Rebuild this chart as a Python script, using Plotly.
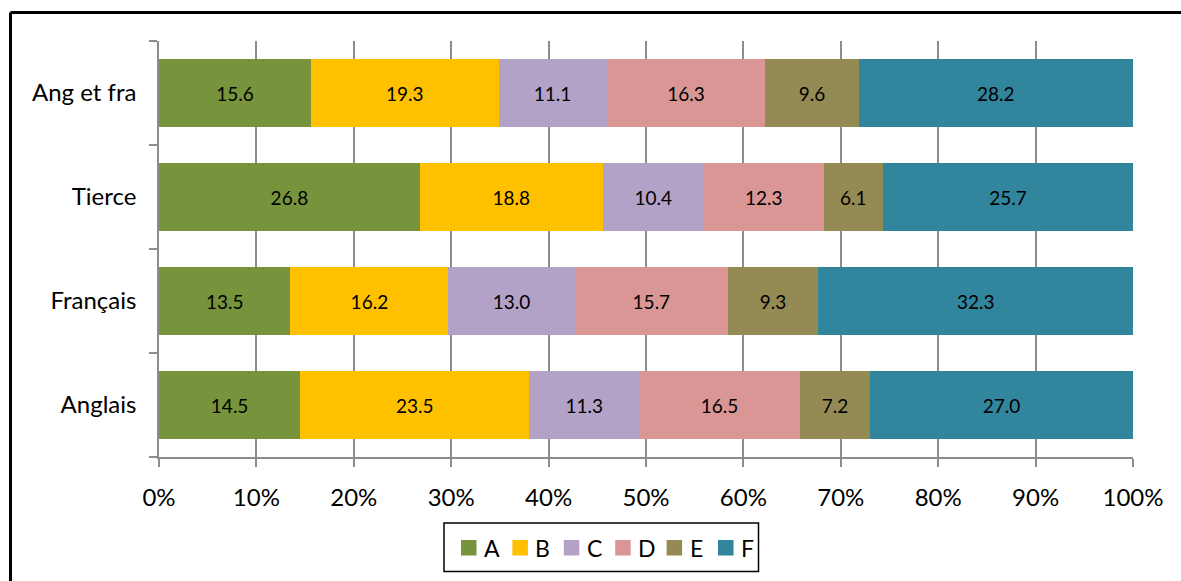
import plotly.graph_objects as go

categories = ["Anglais", "Français", "Tierce", "Ang et fra"]
series_names = ["A", "B", "C", "D", "E", "F"]
A = [14.5, 13.5, 26.8, 15.6]
B = [23.5, 16.2, 18.8, 19.3]
C = [11.3, 13.0, 10.4, 11.1]
D = [16.5, 15.7, 12.3, 16.3]
E = [7.2, 9.3, 6.1, 9.6]
F = [27.0, 32.3, 25.7, 28.2]
series_values = [A, B, C, D, E, F]
colors = ["#77933C", "#FFC000", "#B3A2C7", "#D99694", "#948A54", "#31859C"]
x_ticks = list(range(0, 101, 10))

FONT = "Lato, Carlito, Calibri, sans-serif"

fig = go.Figure()
for name, vals, col in zip(series_names, series_values, colors):
    fig.add_trace(go.Bar(
        y=categories, x=vals, name=name, orientation="h",
        marker=dict(color=col, line=dict(width=0)),
        text=[f"{v:.1f}" for v in vals],
        textposition="inside", insidetextanchor="middle",
        textangle=0,
        textfont=dict(family=FONT, size=19, color="black"),
        hoverinfo="name+x",
        showlegend=False,
    ))

L, R, T, Bm = 159, 48, 41, 124
W, H = 1181, 581
pw, ph = W - L - R, H - T - Bm


def px(x):
    return (x - L) / pw


def py(y):
    return (H - Bm - y) / ph


fig.update_layout(
    width=W, height=H,
    barmode="stack", barnorm="percent", bargap=0.34,
    margin=dict(l=L, r=R, t=T, b=Bm),
    paper_bgcolor="white", plot_bgcolor="white",
    font=dict(family=FONT, size=24, color="black"),
    showlegend=False,
    xaxis=dict(
        range=[0, 100], tickvals=x_ticks,
        ticktext=[f"{v}%" for v in x_ticks],
        showgrid=True, gridcolor="#8C8C8C", gridwidth=1.5,
        showline=True, linecolor="#8C8C8C", linewidth=1.5,
        ticks="outside", ticklen=8, tickcolor="#8C8C8C", tickwidth=1.5,
        zeroline=False, ticklabelstandoff=10,
        tickfont=dict(family=FONT, size=24, color="black"),
    ),
    yaxis=dict(
        type="category", categoryorder="array", categoryarray=categories,
        showline=True, linecolor="#8C8C8C", linewidth=1.5,
        ticks="outside", ticklen=8, tickcolor="#8C8C8C", tickwidth=1.5,
        tickson="boundaries", showgrid=False,
        ticklabelstandoff=16,
        tickfont=dict(family=FONT, size=24, color="black"),
    ),
)

# legend box with swatches (drawn from series_names / colors)
fig.add_shape(type="rect", xref="paper", yref="paper",
              x0=px(444), x1=px(758.5), y0=py(523), y1=py(571.5),
              line=dict(color="black", width=1.5), fillcolor="white")
pitch = 51.4
for i, (name, col) in enumerate(zip(series_names, colors)):
    sx = 461 + pitch * i
    fig.add_shape(type="rect", xref="paper", yref="paper",
                  x0=px(sx), x1=px(sx + 15.5), y0=py(540), y1=py(555.5),
                  line=dict(width=0), fillcolor=col)
    fig.add_annotation(xref="paper", yref="paper", x=px(sx + 21), y=py(548),
                       text=name, showarrow=False, xanchor="left",
                       yanchor="middle",
                       font=dict(family=FONT, size=23, color="black"))

# outer chart frame (only top and left edges visible in the window)
fx = px(10.5)
fy = py(12.5)
fig.add_shape(type="line", xref="paper", yref="paper",
              x0=fx, x1=1.2, y0=fy, y1=fy, line=dict(color="black", width=3))
fig.add_shape(type="line", xref="paper", yref="paper",
              x0=fx, x1=fx, y0=fy, y1=-0.5, line=dict(color="black", width=3))

fig.write_html("out.html")
